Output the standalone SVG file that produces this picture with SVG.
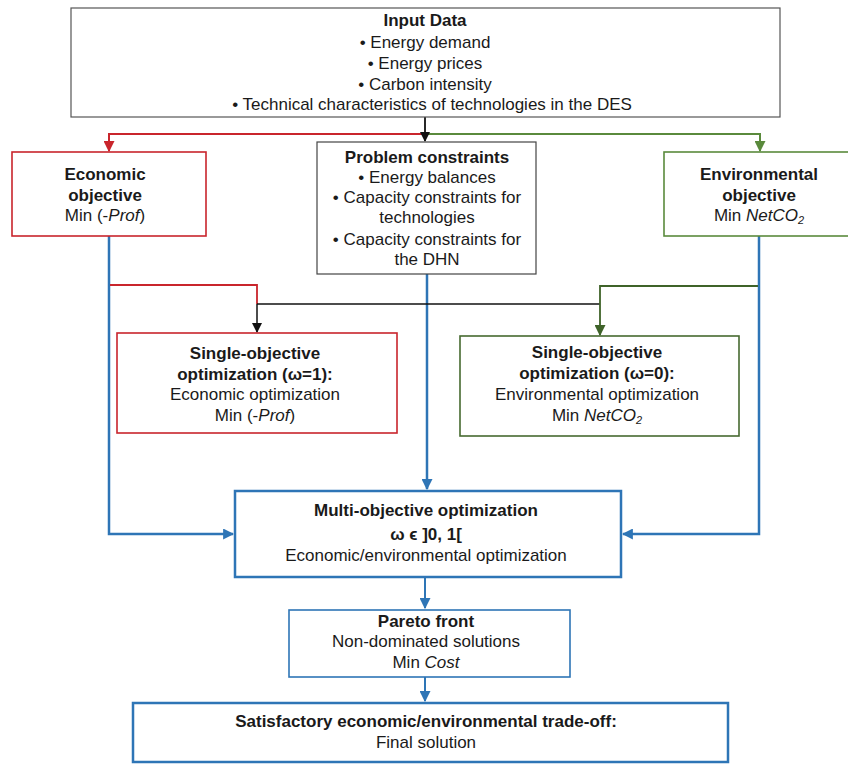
<svg xmlns="http://www.w3.org/2000/svg" width="848" height="764" viewBox="0 0 848 764">
<defs>
<style>
text{font-family:"Liberation Sans",Arial,sans-serif;font-size:17px;fill:#1a1a1a;text-anchor:middle}
.b{font-weight:bold}
.i{font-style:italic}
.box{fill:#fff}
</style>
<marker id="dR" viewBox="0 0 10 10" refX="9" refY="5" markerWidth="11" markerHeight="11" orient="auto" markerUnits="userSpaceOnUse"><path d="M0,0 L10,5 L0,10 Z" fill="#c9252c"/></marker>
<marker id="dG" viewBox="0 0 10 10" refX="9" refY="5" markerWidth="11" markerHeight="11" orient="auto" markerUnits="userSpaceOnUse"><path d="M0,0 L10,5 L0,10 Z" fill="#5a8a3c"/></marker>
<marker id="dDG" viewBox="0 0 10 10" refX="9" refY="5" markerWidth="11" markerHeight="11" orient="auto" markerUnits="userSpaceOnUse"><path d="M0,0 L10,5 L0,10 Z" fill="#3f6329"/></marker>
<marker id="dK" viewBox="0 0 10 10" refX="9" refY="5" markerWidth="10" markerHeight="10" orient="auto" markerUnits="userSpaceOnUse"><path d="M0,0 L10,5 L0,10 Z" fill="#111"/></marker>
<marker id="dB" viewBox="0 0 10 10" refX="9" refY="5" markerWidth="11" markerHeight="11" orient="auto" markerUnits="userSpaceOnUse"><path d="M0,0 L10,5 L0,10 Z" fill="#2e75b6"/></marker>
</defs>

<g id="connectors" fill="none">
  <polyline points="425,134 109,134 109,151" stroke="#c9252c" stroke-width="2" marker-end="url(#dR)"/>
  <polyline points="425,134 760,134 760,151" stroke="#5a8a3c" stroke-width="2" marker-end="url(#dG)"/>
  <line x1="425" y1="117" x2="425" y2="141" stroke="#111" stroke-width="1.8" marker-end="url(#dK)"/>
  <polyline points="109,236 109,534 233,534" stroke="#2e75b6" stroke-width="2.5" marker-end="url(#dB)"/>
  <polyline points="759,236 759,534 623,534" stroke="#2e75b6" stroke-width="2.5" marker-end="url(#dB)"/>
  <line x1="427" y1="274" x2="427" y2="489" stroke="#2e75b6" stroke-width="2.5" marker-end="url(#dB)"/>
  <polyline points="110,285 257,285 257,304" stroke="#c9252c" stroke-width="1.8"/>
  <line x1="257" y1="304" x2="600" y2="304" stroke="#111" stroke-width="1.3"/>
  <line x1="257" y1="304" x2="257" y2="332" stroke="#111" stroke-width="1.5" marker-end="url(#dK)"/>
  <polyline points="758,286 600,286 600,335" stroke="#3f6329" stroke-width="1.8" marker-end="url(#dDG)"/>
  <line x1="425" y1="578" x2="425" y2="608" stroke="#2e75b6" stroke-width="2" marker-end="url(#dB)"/>
  <line x1="425" y1="677" x2="425" y2="701" stroke="#2e75b6" stroke-width="2" marker-end="url(#dB)"/>
</g>

<g id="input-data">
  <rect x="71" y="8" width="709" height="109" class="box" stroke="#555" stroke-width="1.2"/>
  <text x="425" y="26" class="b">Input Data</text>
  <text x="425" y="48">• Energy demand</text>
  <text x="425" y="69">• Energy prices</text>
  <text x="425" y="90">• Carbon intensity</text>
  <text x="432" y="110">• Technical characteristics of technologies in the DES</text>
</g>

<g id="economic-objective">
  <rect x="12" y="152" width="194" height="84" class="box" stroke="#c9252c" stroke-width="1.6"/>
  <text x="105" y="180" class="b">Economic</text>
  <text x="105" y="201" class="b">objective</text>
  <text x="105" y="221">Min (-<tspan class="i">Prof</tspan>)</text>
</g>

<g id="problem-constraints">
  <rect x="317" y="142" width="219" height="132" class="box" stroke="#444" stroke-width="1.2"/>
  <text x="427" y="163" class="b">Problem constraints</text>
  <text x="427" y="183">• Energy balances</text>
  <text x="427" y="203">• Capacity constraints for</text>
  <text x="427" y="223">technologies</text>
  <text x="427" y="245">• Capacity constraints for</text>
  <text x="427" y="265">the DHN</text>
</g>

<g id="environmental-objective">
  <rect x="664" y="152" width="190" height="84" class="box" stroke="#5a8a3c" stroke-width="1.6"/>
  <text x="759" y="180" class="b">Environmental</text>
  <text x="759" y="201" class="b">objective</text>
  <text x="759" y="221">Min <tspan class="i">NetCO</tspan><tspan class="i" font-size="11" dy="3">2</tspan></text>
</g>

<g id="single-economic">
  <rect x="117" y="333" width="280" height="100" class="box" stroke="#c9252c" stroke-width="1.6"/>
  <text x="255" y="359" class="b">Single-objective</text>
  <text x="255" y="380" class="b">optimization (ω=1):</text>
  <text x="255" y="400">Economic optimization</text>
  <text x="255" y="421">Min (-<tspan class="i">Prof</tspan>)</text>
</g>

<g id="single-environmental">
  <rect x="460" y="336" width="279" height="100" class="box" stroke="#466a30" stroke-width="1.6"/>
  <text x="597" y="358" class="b">Single-objective</text>
  <text x="597" y="379" class="b">optimization (ω=0):</text>
  <text x="597" y="400">Environmental optimization</text>
  <text x="597" y="421">Min <tspan class="i">NetCO</tspan><tspan class="i" font-size="11" dy="3">2</tspan></text>
</g>

<g id="multi-objective">
  <rect x="235" y="491" width="386" height="86" class="box" stroke="#2e75b6" stroke-width="2.5"/>
  <text x="426" y="516" class="b">Multi-objective optimization</text>
  <text x="426" y="540" class="b" font-size="15">ω ϵ ]0, 1[</text>
  <text x="426" y="561">Economic/environmental optimization</text>
</g>

<g id="pareto-front">
  <rect x="289" y="610" width="281" height="67" class="box" stroke="#2e75b6" stroke-width="1.6"/>
  <text x="426" y="627" class="b">Pareto front</text>
  <text x="426" y="647">Non-dominated solutions</text>
  <text x="426" y="668">Min <tspan class="i">Cost</tspan></text>
</g>

<g id="final-solution">
  <rect x="133" y="703" width="595" height="59" class="box" stroke="#2e75b6" stroke-width="2.5"/>
  <text x="426" y="727" class="b">Satisfactory economic/environmental trade-off:</text>
  <text x="426" y="748">Final solution</text>
</g>
</svg>
